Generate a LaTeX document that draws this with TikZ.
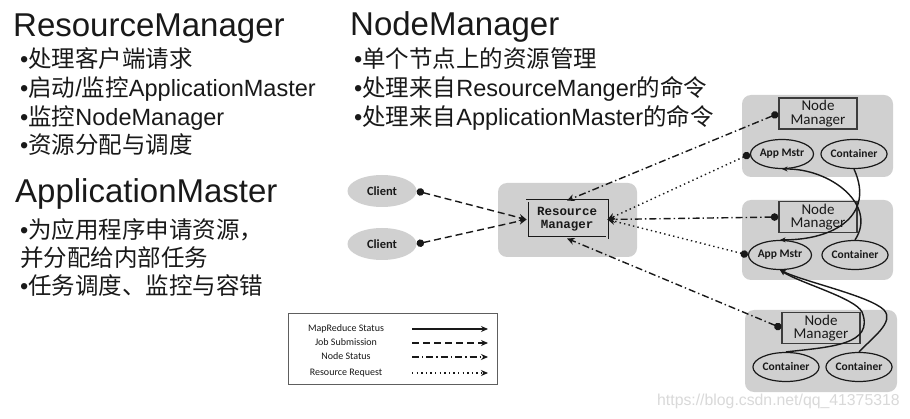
\documentclass[tikz,border=0pt]{standalone}
\usepackage{fontspec}
\setmainfont{Liberation Sans}
\newfontfamily\cjk{Noto Sans CJK SC}
\newfontfamily\lab{Carlito}
\newfontfamily\rmmono{Liberation Mono}
\usetikzlibrary{arrows.meta,shapes.geometric}
\definecolor{boxgray}{RGB}{208,208,208}
\definecolor{ink}{RGB}{25,25,25}
\begin{document}
\begin{tikzpicture}[x=1pt,y=-1pt,
  title/.style={anchor=base west,inner sep=0,font=\fontsize{33}{33}\selectfont,text=ink},
  bul/.style={anchor=base west,inner sep=0,font=\fontsize{23.5}{24}\selectfont,text=ink},
  panel/.style={fill=boxgray,rounded corners=9pt,draw=none},
  client/.style={ellipse,fill=boxgray,minimum width=69pt,minimum height=32pt,inner sep=0,font=\lab\bfseries\fontsize{12.5}{12.5}\selectfont,text=ink},
  oval/.style={ellipse,draw=ink,line width=1.2pt,minimum width=63pt,minimum height=29pt,inner sep=0,font=\lab\bfseries\fontsize{11.5}{11.5}\selectfont,text=ink},
  nmbox/.style={rectangle,draw=ink!85,line width=1.4pt,fill=boxgray,minimum width=78pt,minimum height=31pt,inner sep=0,align=center,font=\lab\fontsize{15}{13.5}\selectfont,text=ink},
  rmbox/.style={rectangle,draw=ink,double=boxgray,double distance=1.2pt,line width=0.9pt,fill=boxgray,minimum width=80pt,minimum height=37pt,inner sep=0,align=center,font=\rmmono\bfseries\fontsize{12.5}{13}\selectfont,text=ink},
  conn/.style={line width=1.4pt,draw=ink},
  job/.style={conn,dash pattern=on 7pt off 4pt},
  nstat/.style={conn,dash pattern=on 7pt off 3pt on 1.4pt off 3pt},
  rreq/.style={conn,dash pattern=on 1.4pt off 3.2pt},
  mr/.style={conn,-{Stealth[length=5.5pt,width=5pt]}},
  src/.style={{Circle[length=7.5pt]}-{Stealth[length=7.5pt,width=7pt]}},
  legtext/.style={inner sep=0,font=\lab\fontsize{10}{10}\selectfont,text=ink},
  legline/.style={line width=1.2pt,draw=ink,-{Stealth[length=7pt,width=6pt]}},
]
\useasboundingbox[fill=white] (0,0) rectangle (910,419);

% ---- left texts
\node[title] (t1) at (13,37) {ResourceManager};
\node[bul] (t1a) at (20,68) {•{\cjk 处理客户端请求}};
\node[bul] (t1b) at (20,97) {•{\cjk 启动}/{\cjk 监控}ApplicationMaster};
\node[bul] (t1c) at (20,126) {•{\cjk 监控}NodeManager};
\node[bul] (t1d) at (20,154) {•{\cjk 资源分配与调度}};

\node[title] (t2) at (350,36) {NodeManager};
\node[bul] (t2a) at (354,68) {•{\cjk 单个节点上的资源管理}};
\node[bul] (t2b) at (354,97) {•{\cjk 处理来自}ResourceManger{\cjk 的命令}};
\node[bul] (t2c) at (354,126) {•{\cjk 处理来自}ApplicationMaster{\cjk 的命令}};

\node[title] (t3) at (15,203) {ApplicationMaster};
\node[bul] (t3a) at (20,239) {•{\cjk 为应用程序申请资源，}};
\node[bul] (t3b) at (20,267) {{\cjk 并分配给内部任务}};
\node[bul] (t3c) at (20,295) {•{\cjk 任务调度、监控与容错}};

% ---- panels
\fill[panel] (498,183) rectangle (637,257);
\fill[panel] (742,95) rectangle (893,177);
\fill[panel] (742,200) rectangle (893,280);
\fill[panel] (745,310) rectangle (897,392);

% ---- nodes
\node[client] (cl1) at (382,191) {Client};
\node[client] (cl2) at (382,244) {Client};
\node[rmbox] (RM) at (567,219.5) {Resource\\Manager};

\node[nmbox] (NM1) at (818,113.5) {Node\\Manager};
\node[oval] (AM1) at (782,154) {App Mstr};
\node[oval] (C1) at (854,154) {Container};

\node[nmbox] (NM2) at (818,217) {Node\\Manager};
\node[oval] (AM2) at (780,255) {App Mstr};
\node[oval] (C2) at (855,255) {Container};

\node[nmbox] (NM3) at (821,328) {Node\\Manager};
\node[oval] (C3a) at (786,367) {Container};
\node[oval] (C3b) at (859,367) {Container};

% ---- connectors to RM
\draw[job,src] (cl1.east) -- (RM.west);
\draw[job,src] (cl2.east) -- (RM.west);
\draw[nstat,src] (NM1.west) -- (RM.north);
\draw[rreq,src] (AM1.west) -- (RM.east);
\draw[nstat,src] (NM2.west) -- (RM.east);
\draw[rreq,src] (AM2.west) -- (RM.east);
\draw[nstat,src] (NM3.west) -- (RM.south);

% ---- MapReduce status curves
\draw[mr] (C1.south) .. controls (875,215) and (835,240) .. (AM2.north);
\draw[mr] (C2.north) .. controls (878,205) and (830,168) .. (AM1.south);
\draw[mr] (C3a.north) .. controls (830,347) and (875,345) .. (862,312) .. controls (855,298) and (800,283) .. (AM2.south);
\draw[mr] (C3b.north) .. controls (872,338) and (895,322) .. (884,310) .. controls (870,296) and (805,282) .. (AM2.south);

% ---- legend
\draw[draw=ink!70,line width=0.8pt,fill=white] (288,313) rectangle (497,384);
\node[legtext] (lg1) at (346,329) {MapReduce Status};
\node[legtext] (lg2) at (346,342) {Job Submission};
\node[legtext] (lg3) at (346,356) {Node Status};
\node[legtext] (lg4) at (346,373) {Resource Request};
\coordinate (la1) at (412,329); \coordinate (lb1) at (488,329);
\coordinate (la2) at (412,343); \coordinate (lb2) at (488,343);
\coordinate (la3) at (412,357); \coordinate (lb3) at (488,357);
\coordinate (la4) at (412,373); \coordinate (lb4) at (488,373);
\draw[legline] (la1) -- (lb1);
\draw[legline,dash pattern=on 7pt off 4pt] (la2) -- (lb2);
\draw[legline,dash pattern=on 7pt off 3pt on 1.4pt off 3pt] (la3) -- (lb3);
\draw[legline,dash pattern=on 1.4pt off 3.2pt] (la4) -- (lb4);

% ---- watermark
\node[anchor=west,inner sep=0,font=\fontsize{15.8}{16}\selectfont,text=black!15] (wm) at (657,401) {https://blog.csdn.net/qq\_41375318};
\end{tikzpicture}
\end{document}
